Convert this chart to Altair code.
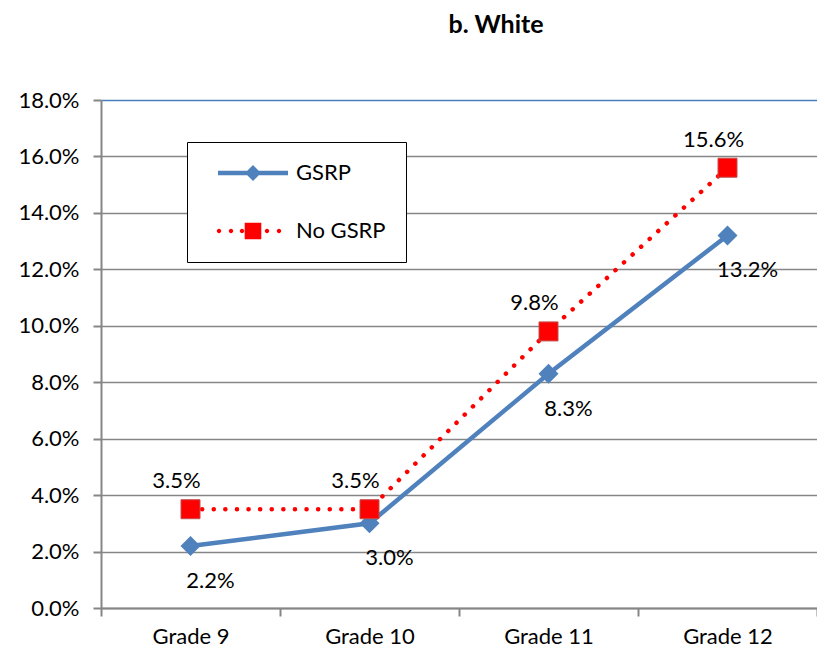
import altair as alt
import pandas as pd

categories = ["Grade 9", "Grade 10", "Grade 11", "Grade 12"]
series_names = ["GSRP", "No GSRP"]
gsrp = [0.022, 0.030, 0.083, 0.132]
no_gsrp = [0.035, 0.035, 0.098, 0.156]
y_ticks = [0.0, 0.02, 0.04, 0.06, 0.08, 0.10, 0.12, 0.14, 0.16, 0.18]

BLUE = "#4f81bd"
RED = "#ff0000"
GRID = "#868686"
FONT = "Lato"

rows = []
for c, v in zip(categories, gsrp):
    rows.append({"grade": c, "series": "GSRP", "value": v})
for c, v in zip(categories, no_gsrp):
    rows.append({"grade": c, "series": "No GSRP", "value": v})
df = pd.DataFrame(rows)


def circle(x, r):
    return (f"M{x - r},0A{r},{r} 0 1,0 {x + r},0"
            f"A{r},{r} 0 1,0 {x - r},0Z")


# legend glyphs (line + marker), in symbol units (1 unit = 10 px)
S = 3.5  # shift so the glyph sits inside the legend box
sym_gsrp = (f"M{S-3.5},-0.22L{S+3.5},-0.22L{S+3.5},0.22L{S-3.5},0.22Z "
            f"M{S},-0.8L{S+0.8},0L{S},0.8L{S-0.8},0Z")
sym_no = " ".join([circle(S + x, 0.22) for x in [-3.4, -2.2, -1.1, 1.4, 2.6]]) + \
    f" M{S-0.83},-0.83L{S+0.83},-0.83L{S+0.83},0.83L{S-0.83},0.83Z"

x_enc = alt.X(
    "grade:N", sort=categories, title=None,
    scale=alt.Scale(type="band", paddingInner=0, paddingOuter=0),
    axis=alt.Axis(tickBand="extent", grid=False, labelAngle=0,
                  domainColor=GRID, domainWidth=2, tickColor=GRID,
                  tickWidth=2, tickSize=8, labelFontSize=22,
                  labelPadding=10, labelColor="black", labelFont=FONT),
)
y_enc = alt.Y(
    "value:Q", title=None,
    scale=alt.Scale(domain=[0, 0.18], nice=False),
    axis=alt.Axis(values=y_ticks, format=".1%", grid=True,
                  gridColor={"condition": {"test": "datum.value >= 0.179", "value": "#4a7ebb"},
                             "value": GRID},
                  gridWidth=1.5, domainColor=GRID, domainWidth=2,
                  tickColor=GRID, tickWidth=2, tickSize=8,
                  labelFontSize=22, labelPadding=14, labelColor="black",
                  labelFont=FONT),
)

base = alt.Chart(df).encode(x=x_enc, y=y_enc)

g = base.transform_filter(alt.datum.series == "GSRP")
n = base.transform_filter(alt.datum.series == "No GSRP")

line_g = g.mark_line(color=BLUE, strokeWidth=4.5)
line_n = n.mark_line(color=RED, strokeWidth=4.5, strokeDash=[0.1, 11.5],
                     strokeCap="round")
pt_g = g.mark_point(shape="diamond", filled=True, size=400, color=BLUE,
                    opacity=1)
pt_n = n.mark_square(size=361, color=RED, opacity=1, stroke="#c0504d",
                     strokeWidth=1)
txt_g = g.mark_text(dx=20, dy=35, fontSize=22, font=FONT,
                    color="black").encode(text=alt.Text("value:Q", format=".1%"))
txt_n = n.mark_text(dx=-14, dy=-28, fontSize=22, font=FONT,
                    color="black").encode(text=alt.Text("value:Q", format=".1%"))

leg = dict(title=None, orient="none", legendX=86, legendY=42, padding=20,
           strokeColor="black", fillColor="white", labelFontSize=22,
           labelFont=FONT, labelColor="black", labelOffset=67,
           rowPadding=36, symbolSize=400, symbolStrokeWidth=0,
           symbolOpacity=1)

legend_layer = alt.Chart(df).mark_point(filled=True, opacity=1).encode(
    color=alt.Color("series:N", scale=alt.Scale(domain=series_names, range=[BLUE, RED]),
                    legend=alt.Legend(**leg)),
    shape=alt.Shape("series:N", scale=alt.Scale(domain=series_names, range=[sym_gsrp, sym_no]),
                    legend=alt.Legend(**leg)),
).transform_filter("false")

chart = alt.layer(line_n, line_g, pt_g, pt_n, txt_g, txt_n, legend_layer).properties(
    width=716, height=508,
    title=alt.TitleParams("b. White", fontSize=25, font=FONT, fontWeight="bold",
                          color="black", anchor="middle", offset=51, dx=37),
    autosize=alt.AutoSizeParams(type="none"),
    padding={"left": 93, "top": 92, "right": 0, "bottom": 44},
).configure_view(stroke=None).configure(background="white")

chart.save("out.html", embed_options={"renderer": "svg", "actions": False})
